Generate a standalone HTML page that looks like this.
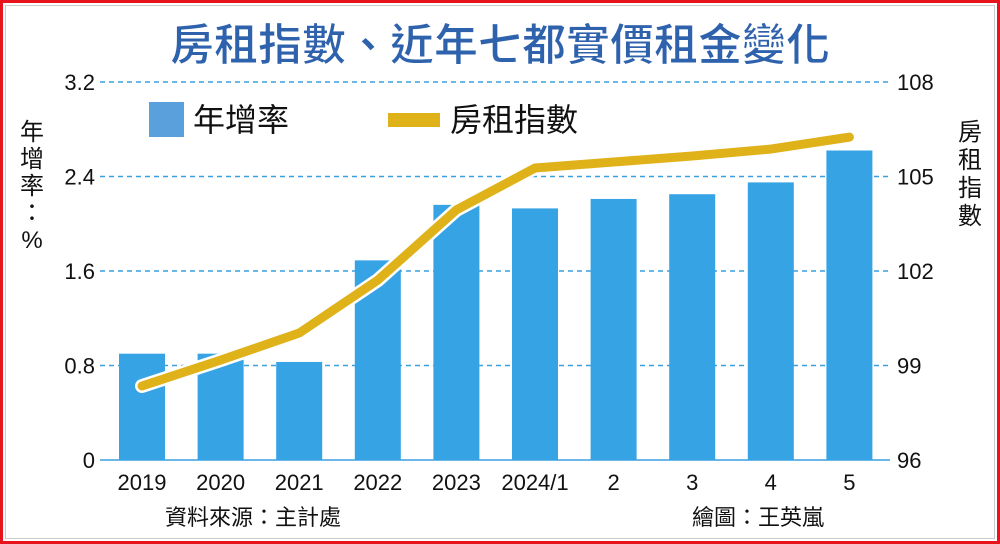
<!DOCTYPE html>
<html><head><meta charset="utf-8"><style>
body{margin:0;width:1000px;height:544px;overflow:hidden;background:#fff;font-family:"Liberation Sans","Noto Sans CJK TC",sans-serif}
#frame{position:absolute;left:0;top:0;width:994px;height:538px;border:3px solid #e8141c}
#inner{position:absolute;left:5px;top:5px;width:988px;height:532px;border:1px solid #ccc}
</style></head><body>
<div id="frame"></div>
<div id="inner"></div>
<svg id="chart" width="1000" height="544" style="position:absolute;left:0;top:0"></svg>
<script>
const categories=["2019","2020","2021","2022","2023","2024/1","2","3","4","5"];
const growthRate=[0.9,0.9,0.83,1.69,2.16,2.13,2.21,2.25,2.35,2.62];
const rentIndex=[98.35,99.17,100.03,101.71,103.94,105.27,105.46,105.65,105.87,106.25];
const leftTicks=["0","0.8","1.6","2.4","3.2"];
const rightTicks=["96","99","102","105","108"];
const NS="http://www.w3.org/2000/svg";
const svg=document.getElementById('chart');
function mk(t,a,txt){const e=document.createElementNS(NS,t);for(const k in a)e.setAttribute(k,a[k]);if(txt!=null)e.textContent=txt;svg.appendChild(e);return e;}
const y0=460,y1=82;
const yL=v=>y0-(v/3.2)*(y0-y1);
const yR=v=>y0-((v-96)/12)*(y0-y1);
const xC=i=>142+i*78.6;
// grid
leftTicks.forEach((t,i)=>{const v=parseFloat(t);const y=yL(v);
 if(i>0){const g=mk('line',{x1:100,x2:890,y1:y,y2:y,stroke:'#3aa0e0','stroke-width':1.5,'stroke-dasharray':'5,4'});
 }
 const l=mk('text',{x:95,y:y+8,'text-anchor':'end','font-size':22,fill:'#111'},t);
 
});
rightTicks.forEach(t=>{const y=yR(parseFloat(t));
 const l=mk('text',{x:897,y:y+8,'font-size':22,fill:'#111'},t);
 
});
const base=mk('line',{x1:100,x2:890,y1:y0,y2:y0,stroke:'#3aa0e0','stroke-width':1.5});

// bars
growthRate.forEach((v,i)=>{const b=mk('rect',{x:xC(i)-23,y:yL(v),width:46,height:y0-yL(v),fill:'#35a3e4'});
 });
categories.forEach((c,i)=>{const l=mk('text',{x:xC(i),y:490,'text-anchor':'middle','font-size':22,fill:'#111'},c);
 });
// line
const pts=rentIndex.map((v,i)=>xC(i)+','+yR(v)).join(' ');
const pl=mk('polyline',{points:pts,fill:'none',stroke:'#fff','stroke-width':14,'stroke-linejoin':'round','stroke-linecap':'round'});

const ln=mk('polyline',{points:pts,fill:'none',stroke:'#e0b21a','stroke-width':9,'stroke-linejoin':'round','stroke-linecap':'round'});

// title
const tt=mk('text',{x:500,y:60,'text-anchor':'middle','font-size':44,'font-weight':'bold',fill:'#2f62ad',stroke:'#fff','stroke-width':1},'房租指數、近年七都實價租金變化');

// legend
const ls=mk('rect',{x:149,y:102,width:35,height:35,fill:'#5aa0dc'});
const lt=mk('text',{x:193,y:131,'font-size':32,fill:'#111'},'年增率');
const ll=mk('rect',{x:388,y:113,width:52,height:14,fill:'#e0b21a'});
const lt2=mk('text',{x:450,y:131,'font-size':32,fill:'#111'},'房租指數');
// axis titles
['年','增','率','：','%'].forEach((c,i)=>{const e=mk('text',{x:32,y:140+i*27,'text-anchor':'middle','font-size':24,fill:'#111'},c);
 });
['房','租','指','數'].forEach((c,i)=>{const e=mk('text',{x:970,y:140+i*28,'text-anchor':'middle','font-size':24,fill:'#111'},c);
 });
const s1=mk('text',{x:165,y:525,'font-size':22,fill:'#111'},'資料來源：主計處');
const s2=mk('text',{x:692,y:525,'font-size':22,fill:'#111'},'繪圖：王英嵐');
</script>
</body></html>
